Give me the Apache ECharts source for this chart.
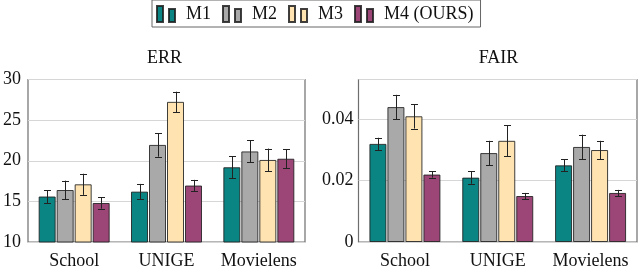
<!DOCTYPE html>
<html>
<head>
<meta charset="utf-8">
<script src="https://cdn.jsdelivr.net/npm/echarts@6/dist/echarts.min.js"></script>
<style>html,body{margin:0;padding:0;background:#fff}#c{width:640px;height:270px}</style>
</head>
<body>
<div id="c"></div>
<script>
const categories = ['School', 'UNIGE', 'Movielens'];
const methods = ['M1', 'M2', 'M3', 'M4 (OURS)'];
const errTicks = [10, 15, 20, 25, 30];
const fairTicks = [0, 0.02, 0.04];

const errM1 = [15.6, 16.2, 19.2];
const errM2 = [16.4, 21.95, 21.15];
const errM3 = [17.1, 27.25, 20.1];
const errM4 = [14.8, 16.95, 20.25];
const errM1Std = [0.8, 0.95, 1.35];
const errM2Std = [1.15, 1.45, 1.35];
const errM3Std = [1.3, 1.25, 1.4];
const errM4Std = [0.7, 0.7, 1.15];

const fairM1 = [0.032, 0.021, 0.025];
const fairM2 = [0.044, 0.029, 0.031];
const fairM3 = [0.041, 0.033, 0.030];
const fairM4 = [0.022, 0.015, 0.016];
const fairM1Std = [0.002, 0.002, 0.002];
const fairM2Std = [0.004, 0.004, 0.004];
const fairM3Std = [0.004, 0.005, 0.003];
const fairM4Std = [0.001, 0.001, 0.001];

const colors = ['#0a8584', '#a9a9a9', '#ffe4b2', '#9c4677'];
const FONT = 'Liberation Serif';
const BAR_W = 17, BAR_GAP = 1;

const errVals = [errM1, errM2, errM3, errM4];
const errStds = [errM1Std, errM2Std, errM3Std, errM4Std];
const fairVals = [fairM1, fairM2, fairM3, fairM4];
const fairStds = [fairM1Std, fairM2Std, fairM3Std, fairM4Std];

const series = [];
function addPanel(vals, stds, gi) {
  vals.forEach((v, i) => {
    series.push({
      type: 'bar', name: methods[i], xAxisIndex: gi, yAxisIndex: gi,
      data: v, barWidth: BAR_W, barGap: (BAR_GAP / BAR_W * 100) + '%',
      itemStyle: { color: colors[i], borderColor: 'rgba(30,30,30,0.85)', borderWidth: 1 },
      emphasis: { disabled: true }
    });
  });
  vals.forEach((v, i) => {
    const offset = (i - 1.5) * (BAR_W + BAR_GAP);
    series.push({
      type: 'custom', xAxisIndex: gi, yAxisIndex: gi, z: 5, silent: true,
      data: v.map((m, k) => [k, m - stds[i][k], m + stds[i][k]]),
      encode: { x: 0, y: [1, 2] },
      renderItem: function (params, api) {
        const lo = api.coord([api.value(0), api.value(1)]);
        const hi = api.coord([api.value(0), api.value(2)]);
        const x = Math.round(lo[0] + offset) + 0.5;
        const c = 3.5;
        const st = { stroke: '#222', lineWidth: 1 };
        return {
          type: 'group', children: [
            { type: 'line', shape: { x1: x, y1: lo[1], x2: x, y2: hi[1] }, style: st },
            { type: 'line', shape: { x1: x - c, y1: Math.round(lo[1]) + 0.5, x2: x + c, y2: Math.round(lo[1]) + 0.5 }, style: st },
            { type: 'line', shape: { x1: x - c, y1: Math.round(hi[1]) + 0.5, x2: x + c, y2: Math.round(hi[1]) + 0.5 }, style: st }
          ]
        };
      }
    });
  });
}
addPanel(errVals, errStds, 0);
addPanel(fairVals, fairStds, 1);

const labelStyle = { fontFamily: FONT, fontSize: 18, color: '#111' };
function xAxis(gi) {
  return {
    type: 'category', gridIndex: gi, data: categories,
    axisLine: { show: false }, axisTick: { show: false },
    axisLabel: Object.assign({ margin: 10, interval: 0, hideOverlap: false }, labelStyle)
  };
}
function yAxis(gi, ticks, fmt, margin) {
  return {
    type: 'value', gridIndex: gi, min: ticks[0], max: gi === 0 ? ticks[ticks.length - 1] : 0.053,
    interval: ticks[1] - ticks[0],
    axisLine: { show: false }, axisTick: { show: false },
    splitLine: { lineStyle: { color: '#d6d6d6', width: 1 } },
    axisLabel: Object.assign({ margin: margin, showMaxLabel: gi === 0, formatter: fmt }, labelStyle)
  };
}

const chart = echarts.init(document.getElementById('c'), null, { renderer: 'canvas' });
chart.setOption({
  animation: false,
  backgroundColor: '#fff',
  grid: [
    { left: 24, right: 335, top: 79.5, bottom: 27, show: true, borderColor: '#6e6e6e', borderWidth: 1.2, backgroundColor: 'transparent' },
    { left: 358.5, right: 3, top: 79.5, bottom: 27, show: true, borderColor: '#6e6e6e', borderWidth: 1.2, backgroundColor: 'transparent' }
  ],
  legend: {
    data: methods, left: 152, top: 0,
    padding: [5, 7, 4, 4], itemGap: 11,
    itemWidth: 18, itemHeight: 16,
    icon: 'path://M0,0h6v16h-6z M12,3h6v13h-6z',
    borderColor: '#666', borderWidth: 1, backgroundColor: '#fff',
    textStyle: { fontFamily: FONT, fontSize: 18, color: '#111', padding: [0, 0, 0, 6] },
    selectedMode: false
  },
  graphic: [
    { type: 'text', x: 164.5, y: 58.5, style: { text: 'ERR', fontFamily: FONT, fontSize: 18, fill: '#111', textAlign: 'center', textVerticalAlign: 'middle' } },
    { type: 'text', x: 498.5, y: 58.5, style: { text: 'FAIR', fontFamily: FONT, fontSize: 18, fill: '#111', textAlign: 'center', textVerticalAlign: 'middle' } }
  ],
  xAxis: [xAxis(0), xAxis(1)],
  yAxis: [
    yAxis(0, errTicks, v => String(v), 7),
    yAxis(1, fairTicks, v => (Math.abs(v / 0.02 - Math.round(v / 0.02)) > 1e-6 ? '' : (v === 0 ? '0' : v.toFixed(2))), 5)
  ],
  series: series
});
</script>
</body>
</html>
